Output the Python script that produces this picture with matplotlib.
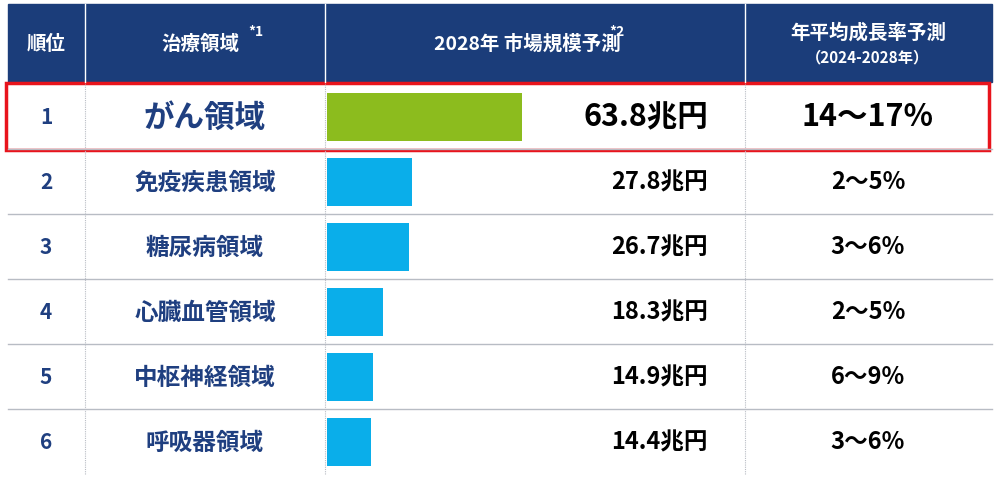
import matplotlib.pyplot as plt
from matplotlib.patches import Rectangle

plt.rcParams["font.family"] = ["Noto Sans CJK JP", "DejaVu Sans"]

ranks = ["1", "2", "3", "4", "5", "6"]
areas = ["がん領域", "免疫疾患領域", "糖尿病領域", "心臓血管領域", "中枢神経領域", "呼吸器領域"]
market = [63.8, 27.8, 26.7, 18.3, 14.9, 14.4]
cagr = ["14〜17%", "2〜5%", "3〜6%", "2〜5%", "6〜9%", "3〜6%"]

NAVY = "#1b3d7a"
TXT = "#1f3f80"

fig = plt.figure(figsize=(10, 4.85), dpi=100)
ax = fig.add_axes([0, 0, 1, 1])
ax.set_xlim(0, 1000)
ax.set_ylim(485, 0)
ax.axis("off")

cols = [8, 85, 325, 745, 992]
top, head_h, row_h = 5, 78, 65

# header
ax.add_patch(Rectangle((cols[0], top), cols[-1] - cols[0], head_h, color=NAVY))
for x in cols[1:-1]:
    ax.plot([x, x], [top, top + head_h], color="white", lw=1)
hy = top + head_h / 2
hk = dict(color="white", fontsize=14, fontweight="bold", va="center", ha="center")
ax.text(46, hy, "順位", **hk)
ax.text(200, hy, "治療領域", **hk)
ax.text(248, hy - 8, "*1", color="white", fontsize=10, fontweight="bold", ha="left")
ax.text(527, hy, "2028年 市場規模予測", **hk)
ax.text(609, hy - 8, "*2", color="white", fontsize=10, fontweight="bold", ha="left")
ax.text(868, hy - 11, "年平均成長率予測", **hk)
ax.text(868, hy + 13, "（2024-2028年）", color="white", fontsize=11, fontweight="bold",
        va="center", ha="center")

y0 = top + head_h + 2
centers = []
for i in range(len(ranks)):
    ya = y0 + i * row_h
    yc = ya + row_h / 2
    centers.append(yc)
    if i > 0:
        ax.plot([cols[0], cols[-1]], [ya, ya], color="#b8bcc4", lw=1)
    big = i == 0
    fs = 22 if big else 17
    ax.text(46, yc, ranks[i], color=TXT, fontsize=15, fontweight="bold", ha="center", va="center")
    ax.text(205, yc, areas[i], color=TXT, fontsize=fs, fontweight="bold", ha="center", va="center")
    ax.text(708, yc, f"{market[i]}兆円", color="black", fontsize=fs, fontweight="bold",
            ha="right", va="center")
    ax.text(868, yc, cagr[i], color="black", fontsize=fs, fontweight="bold", ha="center", va="center")
for x in cols[1:-1]:
    ax.plot([x, x], [y0, y0 + 6 * row_h], color="#b8bcc4", lw=0.8, ls=(0, (1, 1)))

# highlight box for row 1
ax.add_patch(Rectangle((6, y0 - 1), 983, row_h + 2, fill=False, ec="#e8141c", lw=2.5))

# bars
bx = fig.add_axes([327 / 1000, 0, 418 / 1000, 1])
bx.set_ylim(485, 0)
bx.set_xlim(0, 63.8 * 418 / 195)
bx.axis("off")
colors = ["#8cbc1e"] + ["#0aaeea"] * 5
bx.barh(centers, market, height=48, color=colors, left=0)

fig.savefig("out.png", dpi=100)
